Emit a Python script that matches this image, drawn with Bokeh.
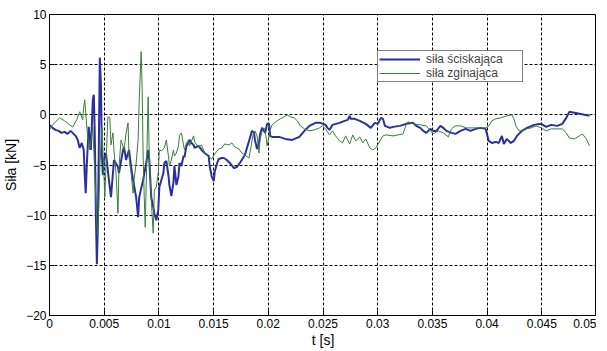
from bokeh.plotting import figure
from bokeh.models import Legend, LegendItem, Range1d
from bokeh.embed import file_html
from bokeh.resources import INLINE

# ---- data ----
t_blue = [0, 0.00028, 0.00055, 0.00083, 0.00110, 0.00138, 0.00166, 0.00193, 0.00221, 0.00239,
          0.00258, 0.00276, 0.00295, 0.00313, 0.00322, 0.00331, 0.00341, 0.00350, 0.00359, 0.00368,
          0.00378, 0.00387, 0.00396, 0.00405, 0.00414, 0.00424, 0.00433, 0.00442, 0.00451, 0.00460,
          0.00470, 0.00479, 0.00488, 0.00497, 0.00516, 0.00543, 0.00562, 0.00580, 0.00589, 0.00626,
          0.00635, 0.00672, 0.00681, 0.00700, 0.00718, 0.00727, 0.00746, 0.00764, 0.00792, 0.00810,
          0.00820, 0.00856, 0.00884, 0.00902, 0.00912, 0.00930, 0.00948, 0.00958, 0.00976, 0.00994,
          0.01004, 0.01041, 0.01050, 0.01068, 0.01087, 0.01096, 0.01114, 0.01133, 0.01142, 0.01160,
          0.01179, 0.01188, 0.01206, 0.01225, 0.01234, 0.01252, 0.01271, 0.01280, 0.01298, 0.01317,
          0.01326, 0.01363, 0.01390, 0.01418, 0.01455, 0.01464, 0.01482, 0.01501, 0.01510, 0.01529,
          0.01547, 0.01575, 0.01593, 0.01621, 0.01648, 0.01685, 0.01713, 0.01740, 0.01786, 0.01832,
          0.01851, 0.01869, 0.01878, 0.01897, 0.01915, 0.01924, 0.01943, 0.01961, 0.01971, 0.01989,
          0.02007, 0.02017, 0.02035, 0.02099, 0.02155, 0.02219, 0.02284, 0.02330, 0.02376, 0.02431,
          0.02477, 0.02523, 0.02541, 0.02560, 0.02587, 0.02651, 0.02698, 0.02726, 0.02744, 0.02753,
          0.02790, 0.02836, 0.02891, 0.02937, 0.02974, 0.03002, 0.03029, 0.03048, 0.03066, 0.03112,
          0.03140, 0.03204, 0.03259, 0.03324, 0.03352, 0.03389, 0.03416, 0.03444, 0.03481, 0.03508,
          0.03536, 0.03573, 0.03600, 0.03628, 0.03674, 0.03711, 0.03757, 0.03803, 0.03849, 0.03895,
          0.03941, 0.03987, 0.04015, 0.04043, 0.04079, 0.04107, 0.04135, 0.04153, 0.04180, 0.04217,
          0.04245, 0.04273, 0.04319, 0.04365, 0.04429, 0.04494, 0.04540, 0.04586, 0.04641, 0.04687,
          0.04724, 0.04751, 0.04798, 0.04844, 0.04890, 0.04936]
f_blue = [-1.0, -1.3, -1.5, -1.6, -1.8, -1.7, -1.9, -1.6, -1.9, -2.1,
          -2.5, -3.3, -2.8, -3.5, -6.0, -7.8, -5.0, -3.0, -1.2, -2.5,
          -3.5, -1.0, 1.5, 2.0, -2.0, -10.0, -14.9, -11.0, -3.0, 5.7,
          3.0, -4.0, -6.0, -4.5, -3.8, -6.5, -8.2, -5.8, -4.5, -5.2,
          -5.8, -3.5, -3.2, -4.5, -3.8, -3.5, -5.2, -6.5, -8.2, -10.2,
          -8.2, -6.5, -4.8, -3.5, -4.5, -8.2, -9.2, -9.8, -10.5, -9.5,
          -7.2, -5.8, -4.8, -4.6, -6.0, -7.0, -8.1, -6.7, -5.1, -7.0,
          -6.1, -4.8, -5.1, -4.1, -4.2, -3.1, -2.8, -2.5, -2.8, -3.0,
          -3.3, -3.1, -3.5, -3.8, -4.1, -5.1, -6.1, -6.6, -5.7, -4.9,
          -4.4, -4.3, -4.3, -4.5, -4.8, -5.3, -5.2, -4.8, -4.0, -2.3,
          -1.6, -1.8, -2.5, -3.4, -2.8, -2.0, -1.3, -1.6, -1.8, -0.9,
          -0.9, -2.1, -2.2, -2.2, -2.4, -2.5, -2.2, -1.6, -1.1, -0.8,
          -0.8, -1.0, -1.3, -1.5, -1.0, -0.8, -0.6, -0.5, -0.1, -0.4,
          -0.4, -0.6, -0.9, -1.3, -0.8, -0.9, -0.3, -0.4, -1.1, -1.3,
          -1.2, -1.1, -0.9, -0.8, -1.1, -1.3, -1.6, -1.8, -1.4, -1.6,
          -1.6, -1.1, -1.3, -1.6, -1.8, -1.9, -1.6, -1.4, -1.6, -1.4,
          -1.3, -1.4, -2.6, -2.8, -2.7, -2.8, -2.1, -2.9, -2.4, -2.8,
          -2.6, -2.1, -1.6, -1.3, -1.0, -0.9, -1.2, -1.0, -1.1, -0.9,
          -0.3, 0.3, 0.2, 0.1, 0.0, -0.1]

t_green = [0, 0.00028, 0.00055, 0.00092, 0.00138, 0.00184, 0.00212, 0.00249, 0.00276, 0.00304,
           0.00313, 0.00322, 0.00341, 0.00350, 0.00368, 0.00396, 0.00414, 0.00433, 0.00442, 0.00451,
           0.00460, 0.00479, 0.00488, 0.00506, 0.00525, 0.00534, 0.00552, 0.00562, 0.00580, 0.00589,
           0.00608, 0.00626, 0.00635, 0.00654, 0.00681, 0.00700, 0.00718, 0.00727, 0.00746, 0.00764,
           0.00773, 0.00792, 0.00810, 0.00820, 0.00838, 0.00847, 0.00856, 0.00866, 0.00875, 0.00893,
           0.00902, 0.00912, 0.00930, 0.00948, 0.00958, 0.00976, 0.00994, 0.01004, 0.01022, 0.01050,
           0.01068, 0.01087, 0.01096, 0.01114, 0.01133, 0.01142, 0.01160, 0.01179, 0.01188, 0.01206,
           0.01225, 0.01234, 0.01252, 0.01271, 0.01280, 0.01298, 0.01317, 0.01326, 0.01363, 0.01390,
           0.01418, 0.01455, 0.01482, 0.01510, 0.01547, 0.01575, 0.01602, 0.01639, 0.01667, 0.01694,
           0.01731, 0.01759, 0.01786, 0.01823, 0.01842, 0.01860, 0.01878, 0.01897, 0.01915, 0.01924,
           0.01943, 0.01961, 0.01980, 0.01989, 0.02007, 0.02017, 0.02035, 0.02053, 0.02081, 0.02108,
           0.02145, 0.02173, 0.02201, 0.02237, 0.02265, 0.02293, 0.02330, 0.02376, 0.02422, 0.02468,
           0.02495, 0.02523, 0.02560, 0.02587, 0.02615, 0.02651, 0.02679, 0.02707, 0.02744, 0.02772,
           0.02799, 0.02836, 0.02864, 0.02891, 0.02928, 0.02956, 0.02983, 0.03020, 0.03048, 0.03075,
           0.03140, 0.03186, 0.03232, 0.03259, 0.03278, 0.03324, 0.03389, 0.03444, 0.03481, 0.03508,
           0.03554, 0.03600, 0.03646, 0.03674, 0.03711, 0.03757, 0.03812, 0.03877, 0.03941, 0.03987,
           0.04015, 0.04043, 0.04079, 0.04125, 0.04180, 0.04227, 0.04245, 0.04263, 0.04291, 0.04319,
           0.04356, 0.04402, 0.04448, 0.04494, 0.04540, 0.04586, 0.04641, 0.04687, 0.04724, 0.04751,
           0.04798, 0.04844, 0.04871, 0.04908, 0.04936]
f_green = [-1.5, -1.0, -0.7, -0.3, -0.6, -1.0, -1.2, -0.5, 0.3, -0.5,
           0.8, 1.5, -1.2, -2.2, -3.5, -1.2, -5.8, -10.8, -12.0, -9.0,
           -5.2, -1.2, -3.5, -8.2, -2.5, -0.2, -0.3, -3.0, -1.8, -3.5,
           -5.8, -9.8, -5.2, -2.5, -3.5, -1.8, -0.8, -4.2, -5.8, -7.8,
           -6.5, -4.8, -2.5, 1.5, 6.3, 2.5, -4.2, -8.2, -11.2, -2.5,
           1.8, -4.2, -8.5, -11.8, -7.5, -7.2, -5.8, -3.5, -3.6, -3.3,
           -2.5, -4.1, -5.1, -4.5, -3.5, -4.1, -3.8, -3.1, -2.1, -1.8,
           -3.0, -3.5, -2.8, -2.5, -3.1, -2.6, -2.1, -2.7, -3.2, -3.0,
           -3.8, -4.2, -4.4, -3.9, -3.4, -3.3, -2.9, -3.0, -2.8, -3.2,
           -3.4, -3.8, -4.0, -4.3, -3.2, -2.0, -1.6, -2.1, -3.8, -2.5,
           -1.6, -1.3, -2.2, -3.1, -2.1, -1.5, -1.0, -0.8, -0.6, -0.4,
           -0.2, 0.0, -0.2, -0.3, -0.6, -1.1, -1.4, -1.6, -1.5, -1.3,
           -1.1, -1.4, -2.0, -1.6, -2.1, -2.6, -2.8, -2.1, -2.9, -2.0,
           -2.6, -2.2, -2.8, -2.4, -3.3, -3.5, -3.3, -2.6, -2.1, -2.0,
           -2.1, -2.0, -1.9, -1.0, -0.7, -0.9, -1.0, -1.1, -1.6, -1.9,
           -1.6, -1.8, -2.2, -1.4, -1.1, -1.1, -1.3, -1.3, -1.3, -1.3,
           -1.1, -0.6, -0.4, -0.3, -0.1, 0.0, -0.4, -1.1, -1.6, -1.6,
           -1.4, -1.3, -1.1, -1.3, -1.6, -1.4, -1.4, -1.4, -1.8, -2.3,
           -2.4, -2.1, -1.9, -2.4, -3.1]

x_ticks = [0, 0.005, 0.01, 0.015, 0.02, 0.025, 0.03, 0.035, 0.04, 0.045, 0.05]
x_tick_labels = ["0", "0.005", "0.01", "0.015", "0.02", "0.025", "0.03", "0.035", "0.04", "0.045", "0.05"]
y_ticks = [-20, -15, -10, -5, 0, 5, 10]
series_names = ["siła ściskająca", "siła zginająca"]
x_label = "t [s]"
y_label = "Siła [kN]"

FONT = "Liberation Sans"

p = figure(width=596, height=350, output_backend="svg", toolbar_location=None,
           x_range=Range1d(0, 0.05), y_range=Range1d(-20, 10),
           min_border_left=41, min_border_right=0, min_border_top=14, min_border_bottom=0)
p.background_fill_color = "white"
p.border_fill_color = "white"
p.outline_line_color = "black"
p.outline_line_width = 1

# axes
p.xaxis.ticker = x_ticks
p.xaxis.major_label_overrides = {v: s for v, s in zip(x_ticks, x_tick_labels)}
p.yaxis.ticker = y_ticks
for ax in (p.xaxis[0], p.yaxis[0]):
    ax.axis_line_color = "black"
    ax.major_tick_in = 5
    ax.major_tick_out = 0
    ax.major_tick_line_color = "black"
    ax.minor_tick_line_color = None
    ax.major_label_text_font = FONT
    ax.major_label_text_font_size = "12px"
    ax.major_label_text_color = "black"
    ax.major_label_standoff = 3
    ax.axis_label_text_font = FONT
    ax.axis_label_text_font_size = "14px"
    ax.axis_label_text_font_style = "normal"
    ax.axis_label_text_color = "black"
p.xaxis.axis_label = x_label
p.yaxis.axis_label = y_label
p.xaxis.axis_label_standoff = 1
p.yaxis.axis_label_standoff = 4

# grid
for g in (p.xgrid[0], p.ygrid[0]):
    g.grid_line_color = "black"
    g.grid_line_dash = "3 2"
    g.grid_line_width = 1
    g.grid_line_alpha = 1.0

rb = p.line(t_blue, f_blue, line_color="#2c2f9c", line_width=2)
rg = p.line(t_green, f_green, line_color="#3a7d3a", line_width=1)

legend = Legend(items=[LegendItem(label=series_names[0], renderers=[rb]),
                       LegendItem(label=series_names[1], renderers=[rg])],
                location=(328, 233))
legend.border_line_color = "black"
legend.border_line_width = 1
legend.background_fill_color = "white"
legend.background_fill_alpha = 1.0
legend.padding = 1
legend.spacing = 0
legend.margin = 0
legend.glyph_width = 41
legend.glyph_height = 12
legend.label_height = 12
legend.label_width = 95
legend.label_standoff = 6
legend.label_text_font = FONT
legend.label_text_font_size = "12px"
p.add_layout(legend)

open("out.html", "w").write(file_html(p, INLINE))
